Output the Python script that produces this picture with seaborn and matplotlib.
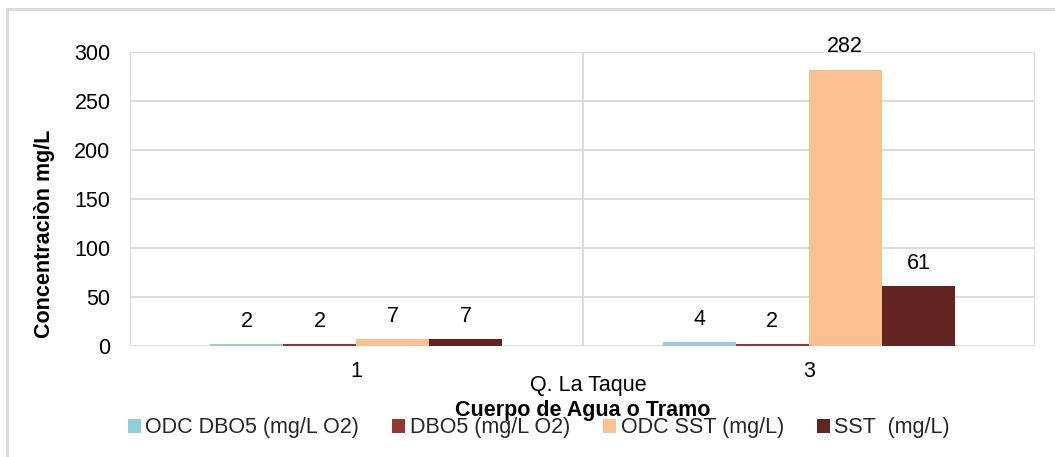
import matplotlib
matplotlib.use("Agg")
import matplotlib.pyplot as plt
import pandas as pd
import seaborn as sns
from matplotlib.lines import Line2D
from matplotlib.patches import Patch

tramos = ["1", "3"]
series = ["ODC DBO5 (mg/L O2)", "DBO5 (mg/L O2)", "ODC SST (mg/L)", "SST  (mg/L)"]
odc_dbo5 = [2, 4]
dbo5 = [2, 2]
odc_sst = [7, 282]
sst = [7, 61]
colors = ["#92CDDC", "#953735", "#FAC090", "#632523"]
group_label = "Q. La Taque"


def main() -> None:
    rows = []
    for name, vals in zip(series, [odc_dbo5, dbo5, odc_sst, sst]):
        for tramo, v in zip(tramos, vals):
            rows.append({"Tramo": tramo, "Serie": name, "Valor": v})
    df = pd.DataFrame(rows)

    sns.set_theme(style="white")
    plt.rcParams["font.family"] = ["Liberation Sans", "DejaVu Sans"]
    fs = 15.5

    fig = plt.figure(figsize=(10.55, 4.57), dpi=100)
    ax = fig.add_axes([130 / 1055, 1 - 346 / 457, 905 / 1055, 294 / 457])

    sns.barplot(
        data=df,
        x="Tramo",
        y="Valor",
        hue="Serie",
        order=tramos,
        hue_order=series,
        palette=dict(zip(series, colors)),
        saturation=1,
        width=0.646,
        edgecolor="none",
        legend=False,
        ax=ax,
    )

    for container in ax.containers:
        ax.bar_label(container, fmt="%d", padding=9, fontsize=fs, color="black")

    ax.set_ylim(0, 300)
    ax.set_xlim(-0.5, 1.5)
    ax.set_yticks(range(0, 301, 50))
    ax.yaxis.grid(True, color="#D9D9D9", linewidth=1.3)
    for xv in [-0.5, 0.5, 1.5]:
        ax.axvline(xv, color="#D9D9D9", linewidth=1.3, zorder=0)
    ax.set_axisbelow(True)
    for s in ax.spines.values():
        s.set_visible(False)

    ax.tick_params(axis="y", length=0, pad=14, labelsize=fs, labelcolor="black")
    ax.tick_params(axis="x", length=0, pad=11, labelsize=fs, labelcolor="black")

    ax.set_ylabel("Concentraciòn mg/L", fontsize=fs, fontweight="bold", color="black")
    ax.yaxis.set_label_coords(-0.083, 0.381)
    ax.set_xlabel("Cuerpo de Agua o Tramo", fontsize=fs, fontweight="bold", color="black")
    ax.xaxis.set_label_coords(0.5, -0.183)

    ax.text((588 - 130) / 905, (346 - 385) / 294, group_label, transform=ax.transAxes,
            ha="center", va="center", fontsize=fs, color="black")

    handles = [Patch(facecolor=c, edgecolor="none") for c in colors]
    fig.legend(
        handles,
        series,
        loc="center",
        bbox_to_anchor=(539 / 1055, 1 - 428 / 457),
        ncol=4,
        frameon=False,
        fontsize=fs,
        handlelength=0.6,
        handleheight=0.6,
        handletextpad=0.2,
        columnspacing=1.55,
    )

    fig.add_artist(Line2D([7 / 1055, 1], [1 - 9 / 457, 1 - 9 / 457],
                          transform=fig.transFigure, color="#D9D9D9", linewidth=2))
    fig.add_artist(Line2D([7 / 1055, 7 / 1055], [0, 1 - 9 / 457],
                          transform=fig.transFigure, color="#D9D9D9", linewidth=2))

    fig.savefig("out.png", dpi=100)
    plt.close(fig)


if __name__ == "__main__":
    main()
